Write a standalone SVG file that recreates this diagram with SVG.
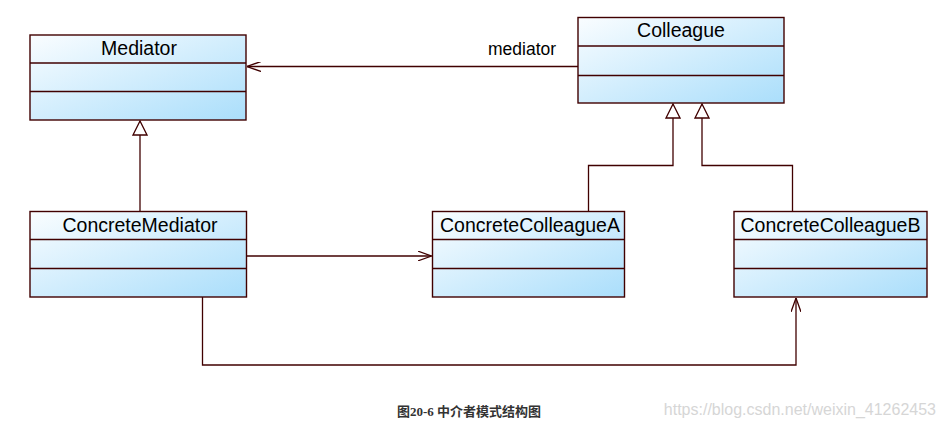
<svg xmlns="http://www.w3.org/2000/svg" width="945" height="427" viewBox="0 0 945 427">
<defs>
<linearGradient id="g" x1="0" y1="0" x2="1" y2="1">
<stop offset="0" stop-color="#fafdff"/>
<stop offset="1" stop-color="#aadefb"/>
</linearGradient>
<marker id="open" viewBox="0 0 14 10" refX="14" refY="5" markerWidth="14" markerHeight="10" markerUnits="userSpaceOnUse" orient="auto">
<path d="M0,0 L14,5 L0,10" fill="none" stroke="#400000" stroke-width="1.3"/>
</marker>
<marker id="tri" viewBox="0 0 16 16" refX="15" refY="8" markerWidth="16" markerHeight="16" markerUnits="userSpaceOnUse" orient="auto">
<path d="M1,1 L15,8 L1,15 Z" fill="#fff" stroke="#400000" stroke-width="1.3"/>
</marker>
</defs>
<style>
.box{fill:url(#g);stroke:#400000;stroke-width:1.4}
.sep{stroke:#400000;stroke-width:1.3}
.t{font-family:"Liberation Sans",Arial,sans-serif;font-size:19.5px;fill:#000;text-anchor:middle}
.c{fill:none;stroke:#400000;stroke-width:1.3}
</style>
<rect width="945" height="427" fill="#fff"/>
<g id="Mediator">
<rect class="box" x="30" y="35" width="216" height="85"/>
<line class="sep" x1="30" y1="63" x2="246" y2="63"/>
<line class="sep" x1="30" y1="91.5" x2="246" y2="91.5"/>
<text class="t" x="139" y="55">Mediator</text>
</g>
<g id="Colleague">
<rect class="box" x="578" y="17.5" width="206" height="85.5"/>
<line class="sep" x1="578" y1="46" x2="784" y2="46"/>
<line class="sep" x1="578" y1="75.5" x2="784" y2="75.5"/>
<text class="t" x="681" y="37">Colleague</text>
</g>
<g id="ConcreteMediator">
<rect class="box" x="30" y="211.5" width="216.5" height="85.5"/>
<line class="sep" x1="30" y1="239.5" x2="246.5" y2="239.5"/>
<line class="sep" x1="30" y1="268.5" x2="246.5" y2="268.5"/>
<text class="t" x="140" y="231.5">ConcreteMediator</text>
</g>
<g id="ConcreteColleagueA">
<rect class="box" x="432.5" y="211.5" width="192" height="85.5"/>
<line class="sep" x1="432.5" y1="239.5" x2="624.5" y2="239.5"/>
<line class="sep" x1="432.5" y1="268.5" x2="624.5" y2="268.5"/>
<text class="t" x="530" y="231.5">ConcreteColleagueA</text>
</g>
<g id="ConcreteColleagueB">
<rect class="box" x="734" y="211.5" width="193" height="85.5"/>
<line class="sep" x1="734" y1="239.5" x2="927" y2="239.5"/>
<line class="sep" x1="734" y1="268.5" x2="927" y2="268.5"/>
<text class="t" x="830.5" y="231.5">ConcreteColleagueB</text>
</g>
<g id="connectors">
<path class="c" d="M578,66.5 L247,66.5" marker-end="url(#open)"/>
<text x="488" y="55" font-family="Liberation Sans,Arial,sans-serif" font-size="17.5" fill="#000">mediator</text>
<path class="c" d="M140,211 L140,121" marker-end="url(#tri)"/>
<path class="c" d="M588.5,211 L588.5,165.5 L673,165.5 L673,104" marker-end="url(#tri)"/>
<path class="c" d="M792.5,211 L792.5,165.5 L702,165.5 L702,104" marker-end="url(#tri)"/>
<path class="c" d="M246.5,256 L431.5,256" marker-end="url(#open)"/>
<path class="c" d="M202.5,297 L202.5,365 L796,365 L796,298" marker-end="url(#open)"/>
</g>
<text x="397" y="416" font-family="Liberation Serif,Noto Sans CJK SC,serif" font-size="13" font-weight="bold" fill="#333">图20-6 中介者模式结构图</text>
<text x="936" y="415" font-family="Liberation Sans,Arial,sans-serif" font-size="16" fill="#d6d6d6" text-anchor="end">https://blog.csdn.net/weixin_41262453</text>
</svg>
